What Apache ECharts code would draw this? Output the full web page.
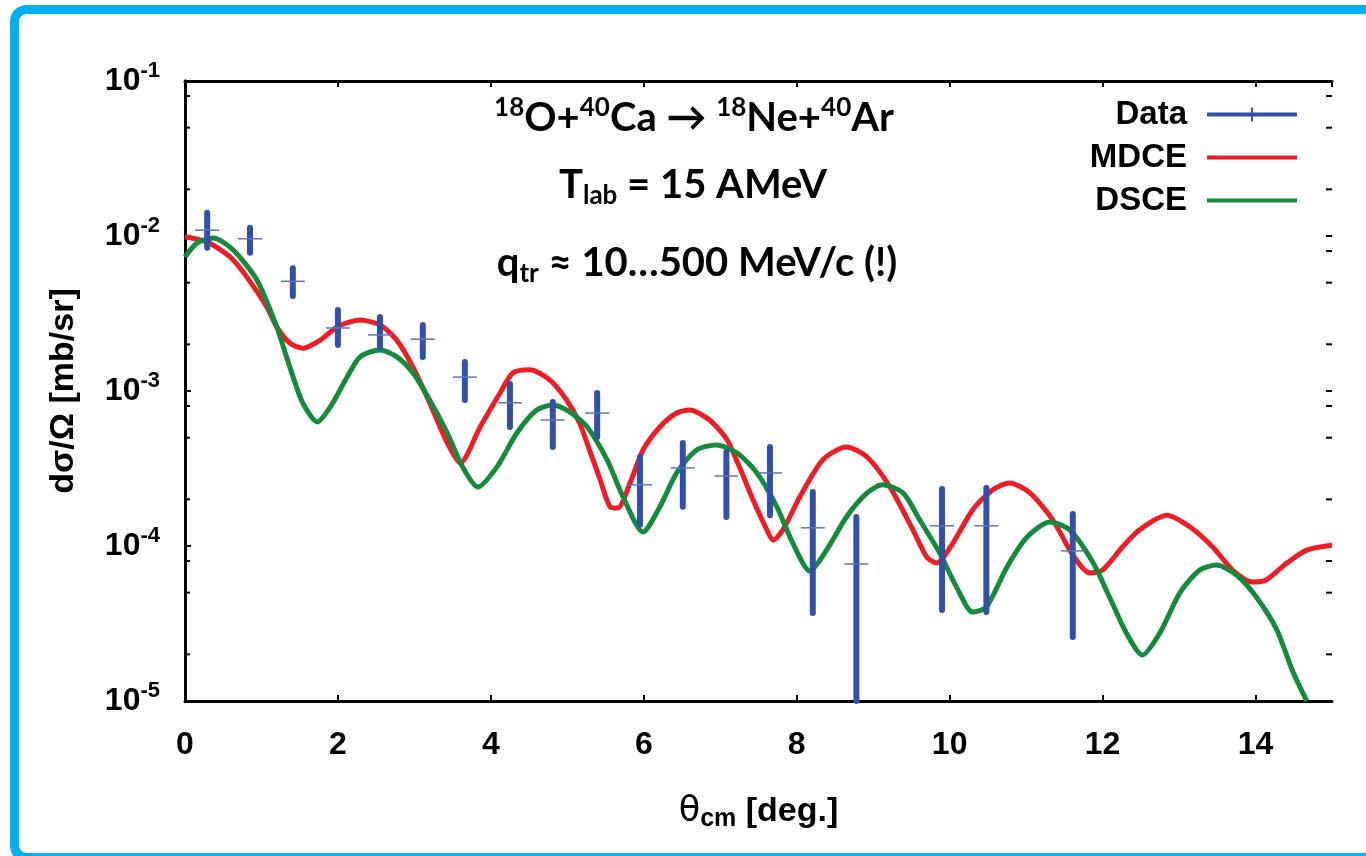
<!DOCTYPE html>
<html>
<head>
<meta charset="utf-8">
<title>18O+40Ca DCE</title>
<script src="https://cdn.jsdelivr.net/npm/echarts@6/dist/echarts.min.js"></script>
<style>
  html, body { margin: 0; padding: 0; background: #fff; }
  #chart { width: 1366px; height: 856px; }
</style>
</head>
<body>
<div id="chart"></div>
<script>
// measured points (theta in deg, cross section in mb/sr)
var dataTheta = [0.29, 0.85, 1.41, 2.0, 2.55, 3.11, 3.66, 4.25, 4.81, 5.39, 5.95, 6.51, 7.08, 7.65, 8.21, 8.78, 9.9, 10.48, 11.61];
var dataValues = [1.09e-2, 9.6e-3, 5.1e-3, 2.55e-3, 2.3e-3, 2.16e-3, 1.23e-3, 8.4e-4, 6.5e-4, 7.2e-4, 2.48e-4, 3.19e-4, 2.83e-4, 2.96e-4, 1.31e-4, 7.65e-5, 1.35e-4, 1.35e-4, 9.3e-5];
var dataLow = [8.4e-3, 7.8e-3, 4.1e-3, 1.98e-3, 1.92e-3, 1.66e-3, 8.75e-4, 5.86e-4, 4.36e-4, 5.05e-4, 1.37e-4, 1.79e-4, 1.54e-4, 1.58e-4, 3.7e-5, 1.0e-5, 3.87e-5, 3.75e-5, 2.59e-5];
var dataHigh = [1.41e-2, 1.13e-2, 6.2e-3, 3.33e-3, 3.0e-3, 2.67e-3, 1.54e-3, 1.11e-3, 8.5e-4, 9.7e-4, 3.75e-4, 4.62e-4, 4.04e-4, 4.36e-4, 2.23e-4, 1.54e-4, 2.33e-4, 2.37e-4, 1.61e-4];

// MDCE calculation
var mdceTheta = [0, 0.29, 0.59, 0.81, 1.07, 1.2, 1.37, 1.54, 1.77, 1.99, 2.29, 2.55, 2.77, 2.98, 3.2, 3.43, 3.6, 3.86, 4.12, 4.29, 4.51, 4.77, 4.99, 5.16, 5.29, 5.43, 5.56, 5.66, 5.82, 5.99, 6.21, 6.43, 6.6, 6.86, 7.09, 7.25, 7.43, 7.61, 7.69, 7.82, 8.04, 8.34, 8.65, 8.92, 9.22, 9.52, 9.7, 9.83, 10.04, 10.3, 10.56, 10.78, 11.05, 11.35, 11.61, 11.83, 12.0, 12.26, 12.48, 12.84, 13.14, 13.44, 13.7, 13.96, 14.14, 14.41, 14.67, 15.0];
var mdceValues = [9.9e-3, 9.14e-3, 7.33e-3, 5.43e-3, 3.48e-3, 2.59e-3, 2.04e-3, 1.89e-3, 2.13e-3, 2.59e-3, 2.87e-3, 2.67e-3, 2.13e-3, 1.43e-3, 8.38e-4, 4.62e-4, 3.43e-4, 5.86e-4, 9.71e-4, 1.31e-3, 1.37e-3, 1.18e-3, 8.75e-4, 6.22e-4, 4.16e-4, 2.67e-4, 1.79e-4, 1.76e-4, 2.55e-4, 4.16e-4, 5.86e-4, 7.21e-4, 7.54e-4, 6.5e-4, 4.83e-4, 3.24e-4, 1.98e-4, 1.27e-4, 1.09e-4, 1.27e-4, 2.07e-4, 3.59e-4, 4.36e-4, 3.75e-4, 2.4e-4, 1.27e-4, 8.49e-5, 7.76e-5, 1.04e-4, 1.71e-4, 2.3e-4, 2.55e-4, 2.2e-4, 1.47e-4, 8.75e-5, 6.7e-5, 7.0e-5, 9.86e-5, 1.27e-4, 1.58e-4, 1.33e-4, 9.86e-5, 7.0e-5, 5.86e-5, 6.04e-5, 7.76e-5, 9.41e-5, 1.01e-4];

// DSCE calculation
var dsceTheta = [0, 0.16, 0.37, 0.63, 0.94, 1.2, 1.37, 1.54, 1.73, 1.9, 2.12, 2.29, 2.55, 2.77, 2.98, 3.2, 3.43, 3.63, 3.83, 4.08, 4.34, 4.6, 4.81, 5.03, 5.26, 5.52, 5.73, 5.99, 6.21, 6.43, 6.69, 6.95, 7.22, 7.48, 7.74, 7.95, 8.17, 8.39, 8.65, 8.92, 9.12, 9.39, 9.61, 9.87, 10.09, 10.3, 10.48, 10.75, 11.01, 11.31, 11.57, 11.87, 12.09, 12.31, 12.52, 12.75, 13.01, 13.27, 13.49, 13.75, 14.01, 14.28, 14.48, 14.67];
var dsceValues = [7.33e-3, 9.02e-3, 9.71e-3, 8.13e-3, 5.2e-3, 2.59e-3, 1.43e-3, 8.38e-4, 6.31e-4, 7.88e-4, 1.23e-3, 1.66e-3, 1.84e-3, 1.66e-3, 1.31e-3, 8.75e-4, 5.36e-4, 3.24e-4, 2.4e-4, 3.24e-4, 5.36e-4, 7.54e-4, 8.12e-4, 7.33e-4, 5.86e-4, 3.59e-4, 2.07e-4, 1.23e-4, 1.79e-4, 2.96e-4, 4.16e-4, 4.49e-4, 3.98e-4, 2.96e-4, 1.79e-4, 1.04e-4, 6.9e-5, 9.41e-5, 1.54e-4, 2.2e-4, 2.48e-4, 2.2e-4, 1.47e-4, 9.01e-5, 5.43e-5, 3.75e-5, 4.04e-5, 7.33e-5, 1.14e-4, 1.43e-4, 1.27e-4, 7.88e-5, 4.69e-5, 2.75e-5, 1.98e-5, 2.75e-5, 4.98e-5, 7.0e-5, 7.53e-5, 6.5e-5, 4.69e-5, 2.87e-5, 1.58e-5, 1.0e-5];

// gnuplot style ticks: decades, and minor ticks at 2, 5, 8 in each decade
var decadeValues = [1e-1, 1e-2, 1e-3, 1e-4, 1e-5];
var minorTickValues = [8e-2, 5e-2, 2e-2, 8e-3, 5e-3, 2e-3, 8e-4, 5e-4, 2e-4, 8e-5, 5e-5, 2e-5];

var BLUE = '#3250AA';
var RED = '#EE1C25';
var GREEN = '#158A3A';
var FONT = 'Liberation Sans';

var zip = function (xs, ys) {
  return xs.map(function (x, i) { return [x, ys[i]]; });
};

var chart = echarts.init(document.getElementById('chart'));

var axisLine = { show: true, lineStyle: { color: '#000', width: 3 } };
var axisTick = { show: true, inside: true, length: 6, lineStyle: { color: '#000', width: 2 } };

// [value, 1 = also on left side]
var tickData = decadeValues.map(function (v) { return [v, 0]; })
  .concat(minorTickValues.map(function (v) { return [v, 1]; }));

var option = {
  backgroundColor: '#fff',
  animation: false,
  grid: { left: 185, top: 81, width: 1147, height: 620 },
  legend: {
    orient: 'vertical',
    right: 64,
    top: 93,
    align: 'right',
    itemWidth: 90,
    itemHeight: 14,
    itemGap: 10,
    selectedMode: false,
    textStyle: { fontSize: 33, fontWeight: 'bold', fontFamily: FONT, color: '#000', padding: [0, 15, 0, 0] },
    data: [
      { name: 'Data', icon: 'path://M0,5h90v4H0z M44,0h2v14h-2z' },
      { name: 'MDCE', icon: 'path://M0,0 M0,5h90v4H0z M90,14' },
      { name: 'DSCE', icon: 'path://M0,0 M0,5h90v4H0z M90,14' }
    ]
  },
  xAxis: [{
    type: 'value',
    position: 'bottom',
    min: 0,
    max: 15,
    interval: 2,
    axisLine: axisLine,
    axisTick: axisTick,
    splitLine: { show: false },
    axisLabel: { margin: 28, fontSize: 32, fontWeight: 'bold', fontFamily: FONT, color: '#000', showMaxLabel: false },
    name: '{t|θ}{s|cm}{b| [deg.]}',
    nameLocation: 'middle',
    nameGap: 90,
    nameTextStyle: {
      rich: {
        t: { fontSize: 35, fontFamily: 'DejaVu Sans', color: '#000' },
        s: { fontSize: 25, fontWeight: 'bold', fontFamily: FONT, color: '#000', verticalAlign: 'bottom', padding: [16, 0, 0, 0] },
        b: { fontSize: 34, fontWeight: 'bold', fontFamily: FONT, color: '#000' }
      }
    }
  }, {
    type: 'value',
    position: 'top',
    min: 0,
    max: 15,
    interval: 2,
    axisLine: axisLine,
    axisTick: axisTick,
    splitLine: { show: false },
    axisLabel: { show: false }
  }],
  yAxis: [{
    type: 'log',
    logBase: 10,
    min: 1e-5,
    max: 1e-1,
    position: 'left',
    axisLine: axisLine,
    axisTick: axisTick,
    splitLine: { show: false },
    axisLabel: {
      margin: 25,
      formatter: function (v) {
        return '{b|10}{s|' + Math.round(Math.log10(v)) + '}';
      },
      rich: {
        b: { fontSize: 32, fontWeight: 'bold', fontFamily: FONT, color: '#000' },
        s: { fontSize: 22, fontWeight: 'bold', fontFamily: FONT, color: '#000', verticalAlign: 'top', padding: [0, 0, 20, 0] }
      }
    },
    name: 'dσ/Ω [mb/sr]',
    nameLocation: 'middle',
    nameGap: 104,
    nameTextStyle: { fontSize: 34, fontWeight: 'bold', fontFamily: FONT, color: '#000' }
  }, {
    type: 'log',
    logBase: 10,
    min: 1e-5,
    max: 1e-1,
    position: 'right',
    axisLine: axisLine,
    axisTick: { show: false },
    splitLine: { show: false },
    axisLabel: { show: false }
  }],
  graphic: [
    {
      type: 'rect',
      shape: { x: 14.5, y: 9.5, width: 1420, height: 848, r: 12 },
      style: { fill: 'none', stroke: '#00B0F0', lineWidth: 9 },
      silent: true
    },
    {
      type: 'text', x: 694, y: 118,
      style: {
        text: '{p|18}{m|O+}{p|40}{m|Ca → }{p|18}{m|Ne+}{p|40}{m|Ar}',
        align: 'center', verticalAlign: 'middle',
        rich: {
          m: { fontSize: 40, fontWeight: 'bold', fontFamily: 'Lato', fill: '#000', lineHeight: 46 },
          p: { fontSize: 26, fontWeight: 'bold', fontFamily: 'Lato', fill: '#000', verticalAlign: 'top', lineHeight: 28 }
        }
      }
    },
    {
      type: 'text', x: 693, y: 185,
      style: {
        text: '{m|T}{d|lab}{m| = 15 AMeV}',
        align: 'center', verticalAlign: 'middle',
        rich: {
          m: { fontSize: 40, fontWeight: 'bold', fontFamily: 'Lato', fill: '#000', lineHeight: 46 },
          d: { fontSize: 26, fontWeight: 'bold', fontFamily: 'Lato', fill: '#000', verticalAlign: 'bottom', padding: [22, 0, 0, 0] }
        }
      }
    },
    {
      type: 'text', x: 697, y: 263,
      style: {
        text: '{m|q}{d|tr}{m| ≈ 10…500 MeV/c (!)}',
        align: 'center', verticalAlign: 'middle',
        rich: {
          m: { fontSize: 40, fontWeight: 'bold', fontFamily: 'Lato', fill: '#000', lineHeight: 46 },
          d: { fontSize: 26, fontWeight: 'bold', fontFamily: 'Lato', fill: '#000', verticalAlign: 'bottom', padding: [22, 0, 0, 0] }
        }
      }
    }
  ],
  series: [
    {
      name: 'Data',
      type: 'custom',
      xAxisIndex: 0,
      yAxisIndex: 0,
      itemStyle: { color: BLUE },
      data: dataTheta.map(function (t, i) { return [t, dataValues[i], dataLow[i], dataHigh[i]]; }),
      encode: { x: 0, y: 1 },
      z: 3,
      renderItem: function (params, api) {
        var x = api.value(0);
        var top = api.coord([x, api.value(3)]);
        var bottom = api.coord([x, api.value(2)]);
        var mid = api.coord([x, api.value(1)]);
        return {
          type: 'group',
          children: [
            { type: 'line', shape: { x1: top[0], y1: top[1], x2: bottom[0], y2: bottom[1] },
              style: { stroke: BLUE, lineWidth: 6, lineCap: 'round' } },
            { type: 'line', shape: { x1: mid[0] - 12, y1: mid[1], x2: mid[0] + 12, y2: mid[1] },
              style: { stroke: '#5A74C0', lineWidth: 1.5 } }
          ]
        };
      }
    },
    {
      name: 'MDCE',
      type: 'line',
      data: zip(mdceTheta, mdceValues),
      smooth: 0.25,
      symbol: 'none',
      itemStyle: { color: RED },
      lineStyle: { color: RED, width: 5 },
      z: 2
    },
    {
      name: 'DSCE',
      type: 'line',
      data: zip(dsceTheta, dsceValues),
      smooth: 0.25,
      symbol: 'none',
      itemStyle: { color: GREEN },
      lineStyle: { color: GREEN, width: 5 },
      z: 2
    },
    {
      name: 'yTicks',
      type: 'custom',
      silent: true,
      data: tickData,
      renderItem: function (params, api) {
        var v = api.value(0);
        var l = api.coord([0, v]);
        var r = api.coord([15, v]);
        var children = [
          { type: 'line', shape: { x1: r[0], y1: r[1], x2: r[0] - 6, y2: r[1] }, style: { stroke: '#000', lineWidth: 2 } }
        ];
        if (api.value(1) === 1) {
          children.push({ type: 'line', shape: { x1: l[0], y1: l[1], x2: l[0] + 5, y2: l[1] }, style: { stroke: '#000', lineWidth: 2 } });
        }
        return { type: 'group', children: children };
      }
    }
  ]
};

chart.setOption(option);
</script>
</body>
</html>
